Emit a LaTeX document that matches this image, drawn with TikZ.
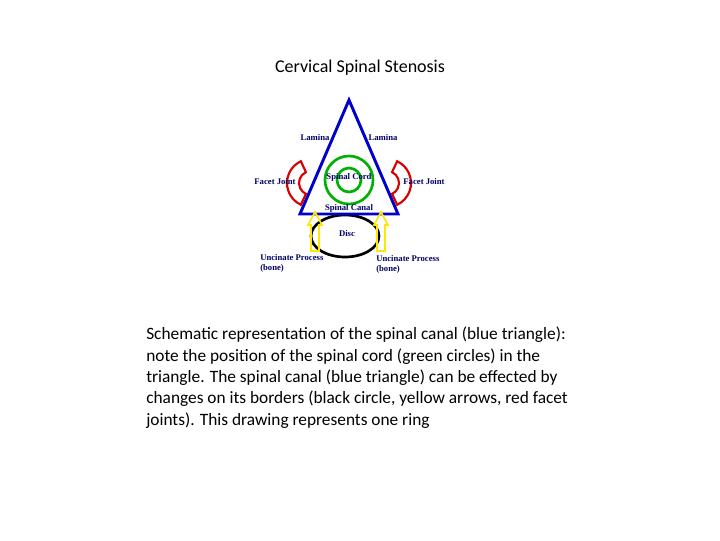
\documentclass[tikz,border=0pt]{standalone}
\usepackage{fontspec}
\setmainfont{Carlito}
\newfontfamily\lbl{Liberation Serif}
\begin{document}
\begin{tikzpicture}[x=0.75pt,y=-0.75pt,
  lab/.style={font=\lbl\bfseries\fontsize{6.5}{7.5}\selectfont,text=blue!40!black,inner sep=0pt},
  yarrow/.style={draw=yellow!90!orange,line width=1.3pt,fill=none}]
\useasboundingbox (0,0) rectangle (720,540);
\node (title) at (360,68) {\fontsize{13.5}{15}\selectfont Cervical Spinal Stenosis};
% disc
\draw[line width=2pt] (345,236) ellipse [x radius=34, y radius=21];
% triangle
\draw[blue!80!black,line width=2.2pt,line join=miter] (349,100) -- (300,214) -- (398,214) -- cycle;
% spinal cord
\draw[green!70!black,line width=2pt] (349,180) circle [radius=24];
\draw[green!70!black,line width=2pt] (349,180) circle [radius=12];
% facet joints
\draw[red!85!black,line width=1.6pt] (311,183) ++(115:24) arc[start angle=115,end angle=245,radius=24] -- ++(65:12) arc[start angle=245,end angle=115,radius=12] -- cycle;
\draw[red!85!black,line width=1.6pt] (387,183) ++(65:24) arc[start angle=65,end angle=-65,radius=24] -- ++(115:12) arc[start angle=-65,end angle=65,radius=12] -- cycle;
% yellow hollow arrows
\foreach \x in {315,381}{
 \draw[yarrow] (\x-4,251) -- (\x-4,225) -- (\x-7,225) -- (\x,212) -- (\x+7,225) -- (\x+4,225) -- (\x+4,251) -- cycle;}
\node[lab] (lam1) at (315,138) {Lamina};
\node[lab] (lam2) at (383,138) {Lamina};
\node[lab] (sc) at (349,177) {Spinal Cord};
\node[lab] (fj1) at (275,182) {Facet Joint};
\node[lab] (fj2) at (424,182) {Facet Joint};
\node[lab] (can) at (349,208) {Spinal Canal};
\node[lab] (disc) at (347,234) {Disc};
\node[lab,align=left,anchor=north west] (u1) at (260,254) {Uncinate Process\\(bone)};
\node[lab,align=left,anchor=north west] (u2) at (376,255) {Uncinate Process\\(bone)};
\node[anchor=north west,align=left,inner sep=0pt,font=\fontsize{13}{16}\selectfont] (cap) at (146,327)
{Schematic representation of the spinal canal (blue triangle):\\
note the position of the spinal cord (green circles) in the\\
triangle. The spinal canal (blue triangle) can be effected by\\
changes on its borders (black circle, yellow arrows, red facet\\
joints). This drawing represents one ring};
\end{tikzpicture}
\end{document}
